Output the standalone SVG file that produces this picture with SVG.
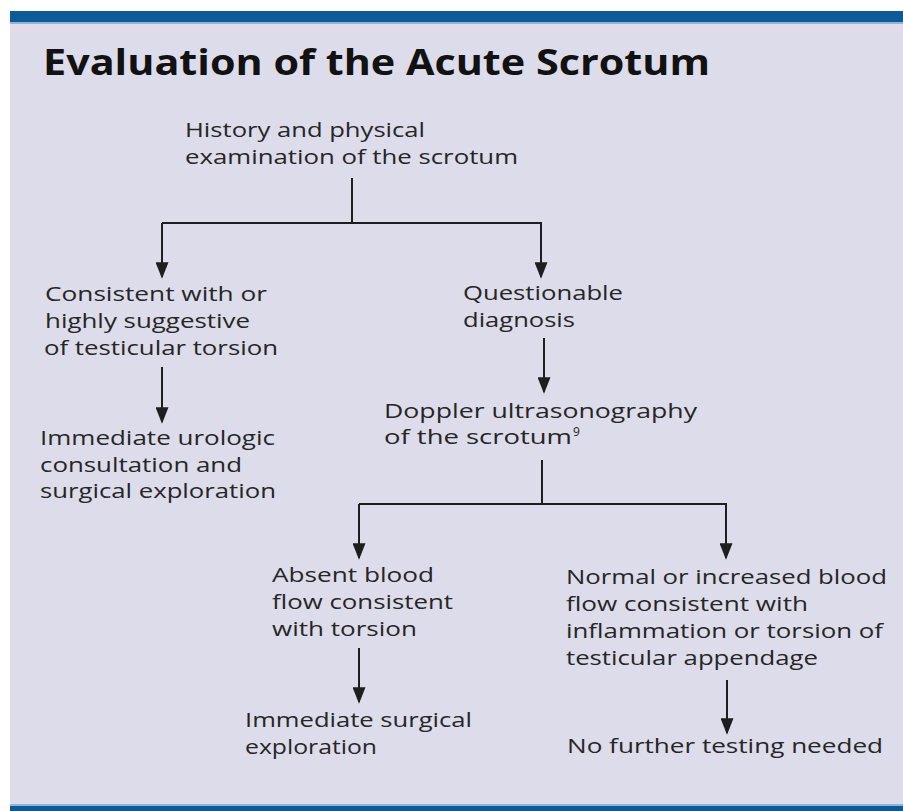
<svg xmlns="http://www.w3.org/2000/svg" width="903" height="811" viewBox="0 0 903 811">
  <style>
    .t { font-family: "Open Sans", "Liberation Sans", sans-serif; font-size: 19.5px; fill: #262626; }
    .title { font-family: "Open Sans", "Liberation Sans", sans-serif; font-size: 35px; font-weight: 700; fill: #121212; }
    .c { fill: none; stroke: #1e1e1e; stroke-width: 2; }
  </style>
  <defs>
    <marker id="arr" viewBox="0 0 18 14" refX="16" refY="7" markerWidth="18" markerHeight="13" markerUnits="userSpaceOnUse" orient="auto">
      <path d="M0,0 L18,7 L0,14 Z" fill="#1e1e1e"/>
    </marker>
  </defs>

  <!-- frame -->
  <rect x="0" y="0" width="903" height="811" fill="#ffffff"/>
  <rect x="10" y="11" width="893" height="800" fill="#dcdcea"/>
  <rect x="10" y="11" width="893" height="11" fill="#0d5a96"/>
  <rect x="10" y="22" width="893" height="2" fill="#8ab8dc"/>
  <rect x="10" y="24" width="893" height="8" fill="#e3dce8"/>
  <rect x="10" y="804" width="893" height="2" fill="#8ab8dc"/>
  <rect x="10" y="806" width="893" height="5" fill="#0d5a96"/>

  <g id="title">
    <text class="title" x="43" y="75" textLength="667" lengthAdjust="spacingAndGlyphs">Evaluation of the Acute Scrotum</text>
  </g>

  <g id="connectors">
    <path class="c" d="M352,178 V223"/>
    <path class="c" d="M162,223 H542"/>
    <path class="c" d="M162,223 V277" marker-end="url(#arr)"/>
    <path class="c" d="M541,223 V277" marker-end="url(#arr)"/>
    <path class="c" d="M162,367 V422" marker-end="url(#arr)"/>
    <path class="c" d="M544,338 V392" marker-end="url(#arr)"/>
    <path class="c" d="M542,460 V504"/>
    <path class="c" d="M359,504 H727"/>
    <path class="c" d="M359,504 V558" marker-end="url(#arr)"/>
    <path class="c" d="M726,504 V558" marker-end="url(#arr)"/>
    <path class="c" d="M359,648 V702" marker-end="url(#arr)"/>
    <path class="c" d="M727,680 V733" marker-end="url(#arr)"/>
  </g>

  <g id="history">
    <text class="t" x="185" y="137" textLength="240" lengthAdjust="spacingAndGlyphs">History and physical</text>
    <text class="t" x="185" y="164" textLength="333" lengthAdjust="spacingAndGlyphs">examination of the scrotum</text>
  </g>

  <g id="consistent">
    <text class="t" x="45" y="301" textLength="222" lengthAdjust="spacingAndGlyphs">Consistent with or</text>
    <text class="t" x="45" y="328" textLength="205" lengthAdjust="spacingAndGlyphs">highly suggestive</text>
    <text class="t" x="44" y="355" textLength="234" lengthAdjust="spacingAndGlyphs">of testicular torsion</text>
  </g>

  <g id="urologic">
    <text class="t" x="40" y="445" textLength="235" lengthAdjust="spacingAndGlyphs">Immediate urologic</text>
    <text class="t" x="40" y="472" textLength="202" lengthAdjust="spacingAndGlyphs">consultation and</text>
    <text class="t" x="40" y="498" textLength="236" lengthAdjust="spacingAndGlyphs">surgical exploration</text>
  </g>

  <g id="questionable">
    <text class="t" x="463" y="300" textLength="160" lengthAdjust="spacingAndGlyphs">Questionable</text>
    <text class="t" x="463" y="327" textLength="112" lengthAdjust="spacingAndGlyphs">diagnosis</text>
  </g>

  <g id="doppler">
    <text class="t" x="384" y="418" textLength="313" lengthAdjust="spacingAndGlyphs">Doppler ultrasonography</text>
    <text class="t" x="384" y="444" textLength="188" lengthAdjust="spacingAndGlyphs">of the scrotum</text>
    <text class="t" x="573" y="436" style="font-size:12px">9</text>
  </g>

  <g id="absent">
    <text class="t" x="272" y="582" textLength="162" lengthAdjust="spacingAndGlyphs">Absent blood</text>
    <text class="t" x="272" y="609" textLength="181" lengthAdjust="spacingAndGlyphs">flow consistent</text>
    <text class="t" x="272" y="636" textLength="145" lengthAdjust="spacingAndGlyphs">with torsion</text>
  </g>

  <g id="normal">
    <text class="t" x="566" y="584" textLength="321" lengthAdjust="spacingAndGlyphs">Normal or increased blood</text>
    <text class="t" x="566" y="611" textLength="242" lengthAdjust="spacingAndGlyphs">flow consistent with</text>
    <text class="t" x="566" y="638" textLength="317" lengthAdjust="spacingAndGlyphs">inflammation or torsion of</text>
    <text class="t" x="566" y="665" textLength="252" lengthAdjust="spacingAndGlyphs">testicular appendage</text>
  </g>

  <g id="surgical">
    <text class="t" x="245" y="727" textLength="227" lengthAdjust="spacingAndGlyphs">Immediate surgical</text>
    <text class="t" x="245" y="754" textLength="132" lengthAdjust="spacingAndGlyphs">exploration</text>
  </g>

  <g id="nofurther">
    <text class="t" x="567" y="753" textLength="316" lengthAdjust="spacingAndGlyphs">No further testing needed</text>
  </g>
</svg>
